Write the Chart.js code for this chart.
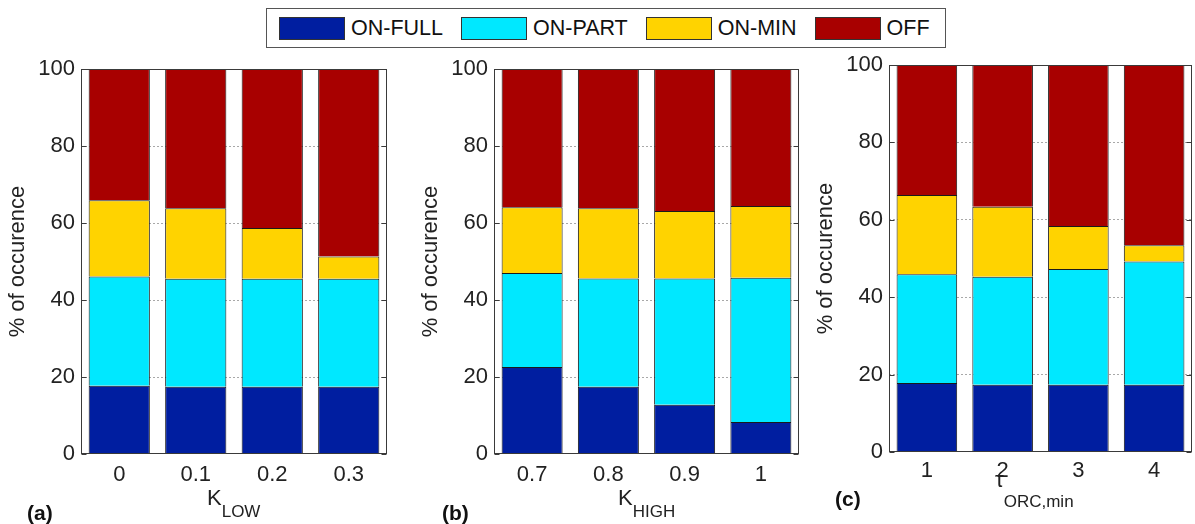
<!DOCTYPE html>
<html>
<head>
<meta charset="utf-8">
<script src="https://cdn.jsdelivr.net/npm/chart.js@4"></script>
<style>
  html, body { margin:0; padding:0; background:#fff; }
  body { width:1195px; height:524px; position:relative; overflow:hidden;
         font-family:"Liberation Sans", Arial, sans-serif; color:#111; }
  canvas { position:absolute; }
  #legend { position:absolute; left:266px; top:8px; width:680px; height:40px; box-sizing:border-box;
            border:1.5px solid #555; display:flex; align-items:center; padding-left:12px; background:#fff;
            white-space:nowrap; }
  .li { display:flex; align-items:center; margin-right:18px; font-size:21.5px; flex-shrink:0; white-space:nowrap; }
  .sw { width:66px; height:23px; box-sizing:border-box; border:1px solid #333; margin-right:6px; flex-shrink:0; }
  .xt { position:absolute; font-size:22px; line-height:22px; white-space:nowrap; color:#222; }
  .sb { font-size:17px; vertical-align:-12px; }
  .pl { position:absolute; font-size:21px; line-height:21px; font-weight:bold; color:#111; }
</style>
</head>
<body>
<div id="legend"></div>
<canvas id="ca" width="400" height="524" style="left:0px;top:0px"></canvas>
<canvas id="cb" width="397" height="524" style="left:413px;top:0px"></canvas>
<canvas id="cc" width="387" height="524" style="left:808px;top:0px"></canvas>

<div class="xt" style="left:207px;top:487px">K<span class="sb">LOW</span></div>
<div class="xt" style="left:618px;top:487px">K<span class="sb">HIGH</span></div>
<div class="xt" style="left:995px;top:469px">τ<span class="sb" style="vertical-align:-20px">ORC,min</span></div>
<div class="pl" style="left:27px;top:502px">(a)</div>
<div class="pl" style="left:442px;top:502px">(b)</div>
<div class="pl" style="left:835px;top:488px">(c)</div>

<script>
// ---- data ----
const seriesNames = ['ON-FULL', 'ON-PART', 'ON-MIN', 'OFF'];

const catsA = ['0', '0.1', '0.2', '0.3'];
const onFullA = [17.7, 17.5, 17.5, 17.5];
const onPartA = [28.4, 28.0, 28.0, 28.0];
const onMinA  = [19.8, 18.3, 13.2, 5.8];
const offA    = [34.1, 36.2, 41.3, 48.7];

const catsB = ['0.7', '0.8', '0.9', '1'];
const onFullB = [22.6, 17.5, 12.8, 8.3];
const onPartB = [24.4, 28.1, 32.8, 37.5];
const onMinB  = [17.1, 18.2, 17.5, 18.6];
const offB    = [35.9, 36.2, 36.9, 35.6];

const catsC = ['1', '2', '3', '4'];
const onFullC = [17.8, 17.4, 17.4, 17.4];
const onPartC = [28.1, 27.9, 29.9, 31.8];
const onMinC  = [20.5, 18.1, 11.1, 4.2];
const offC    = [33.6, 36.6, 41.6, 46.6];

const yMin = 0, yMax = 100, yStep = 20;
const yTitle = '% of occurence';

// ---- styles ----
const seriesColors = ['#001EA0', '#00E8FF', '#FFD300', '#A80000'];
const FONT = '"Liberation Sans", Arial, sans-serif';

// legend (HTML)
const lg = document.getElementById('legend');
seriesNames.forEach((n, i) => {
  const it = document.createElement('div'); it.className = 'li';
  const sw = document.createElement('div'); sw.className = 'sw'; sw.style.background = seriesColors[i];
  const tx = document.createElement('span'); tx.textContent = n;
  it.appendChild(sw); it.appendChild(tx); lg.appendChild(it);
});

const boxPlugin = {
  id: 'box',
  afterDatasetsDraw(chart) {
    const { ctx, chartArea: a, scales: { y } } = chart;
    ctx.save();
    ctx.strokeStyle = '#3a3a3a';
    ctx.lineWidth = 1;
    const l = Math.round(a.left) + 0.5, r = Math.round(a.right) - 0.5;
    const t = Math.round(a.top) + 0.5, b = Math.round(a.bottom) - 0.5;
    ctx.strokeRect(l, t, r - l, b - t);
    ctx.beginPath();
    y.ticks.forEach(tk => {
      const py = Math.round(y.getPixelForValue(tk.value)) + 0.5;
      ctx.moveTo(l, py); ctx.lineTo(l + 5, py);
      ctx.moveTo(r, py); ctx.lineTo(r - 5, py);
    });
    ctx.stroke();
    ctx.restore();
  }
};

function makeChart(id, cats, vals, L) {
  return new Chart(document.getElementById(id), {
    type: 'bar',
    data: {
      labels: cats,
      datasets: seriesNames.map((n, i) => ({
        label: n, data: vals[i],
        backgroundColor: seriesColors[i],
        borderColor: '#1a1a1a',
        borderWidth: { top: 1, left: 1, right: 1, bottom: 0 },
        borderSkipped: false,
        categoryPercentage: 1.0, barPercentage: 0.8
      }))
    },
    options: {
      responsive: false, animation: false, devicePixelRatio: 1,
      layout: { padding: { left: 0, right: L.padR, top: L.top, bottom: 0 } },
      plugins: { legend: { display: false }, tooltip: { enabled: false } },
      scales: {
        x: {
          stacked: true,
          grid: { display: false, drawTicks: false },
          border: { display: false },
          ticks: { font: { size: 22, family: FONT }, color: '#222', padding: L.xpad },
          afterFit(s) { s.height = L.xh; }
        },
        y: {
          stacked: true, min: yMin, max: yMax,
          ticks: { stepSize: yStep, font: { size: 22, family: FONT }, color: '#222', padding: 6 },
          grid: {
            drawTicks: false, lineWidth: 1,
            color: c => (c.tick && (c.tick.value === yMin || c.tick.value === yMax)) ? 'rgba(0,0,0,0)' : '#a8a8a8'
          },
          border: { display: false, dash: [2, 2] },
          title: { display: true, text: yTitle, font: { size: 22, family: FONT }, color: '#222', padding: { top: 5, bottom: 0 } },
          afterFit(s) { s.width = 81; }
        }
      }
    },
    plugins: [boxPlugin]
  });
}

makeChart('ca', catsA, [onFullA, onPartA, onMinA, offA], { padR: 13, top: 69, xh: 70, xpad: 8 });
makeChart('cb', catsB, [onFullB, onPartB, onMinB, offB], { padR: 11, top: 69, xh: 70, xpad: 8 });
makeChart('cc', catsC, [onFullC, onPartC, onMinC, offC], { padR: 3, top: 65, xh: 72, xpad: 6 });
</script>
</body>
</html>
